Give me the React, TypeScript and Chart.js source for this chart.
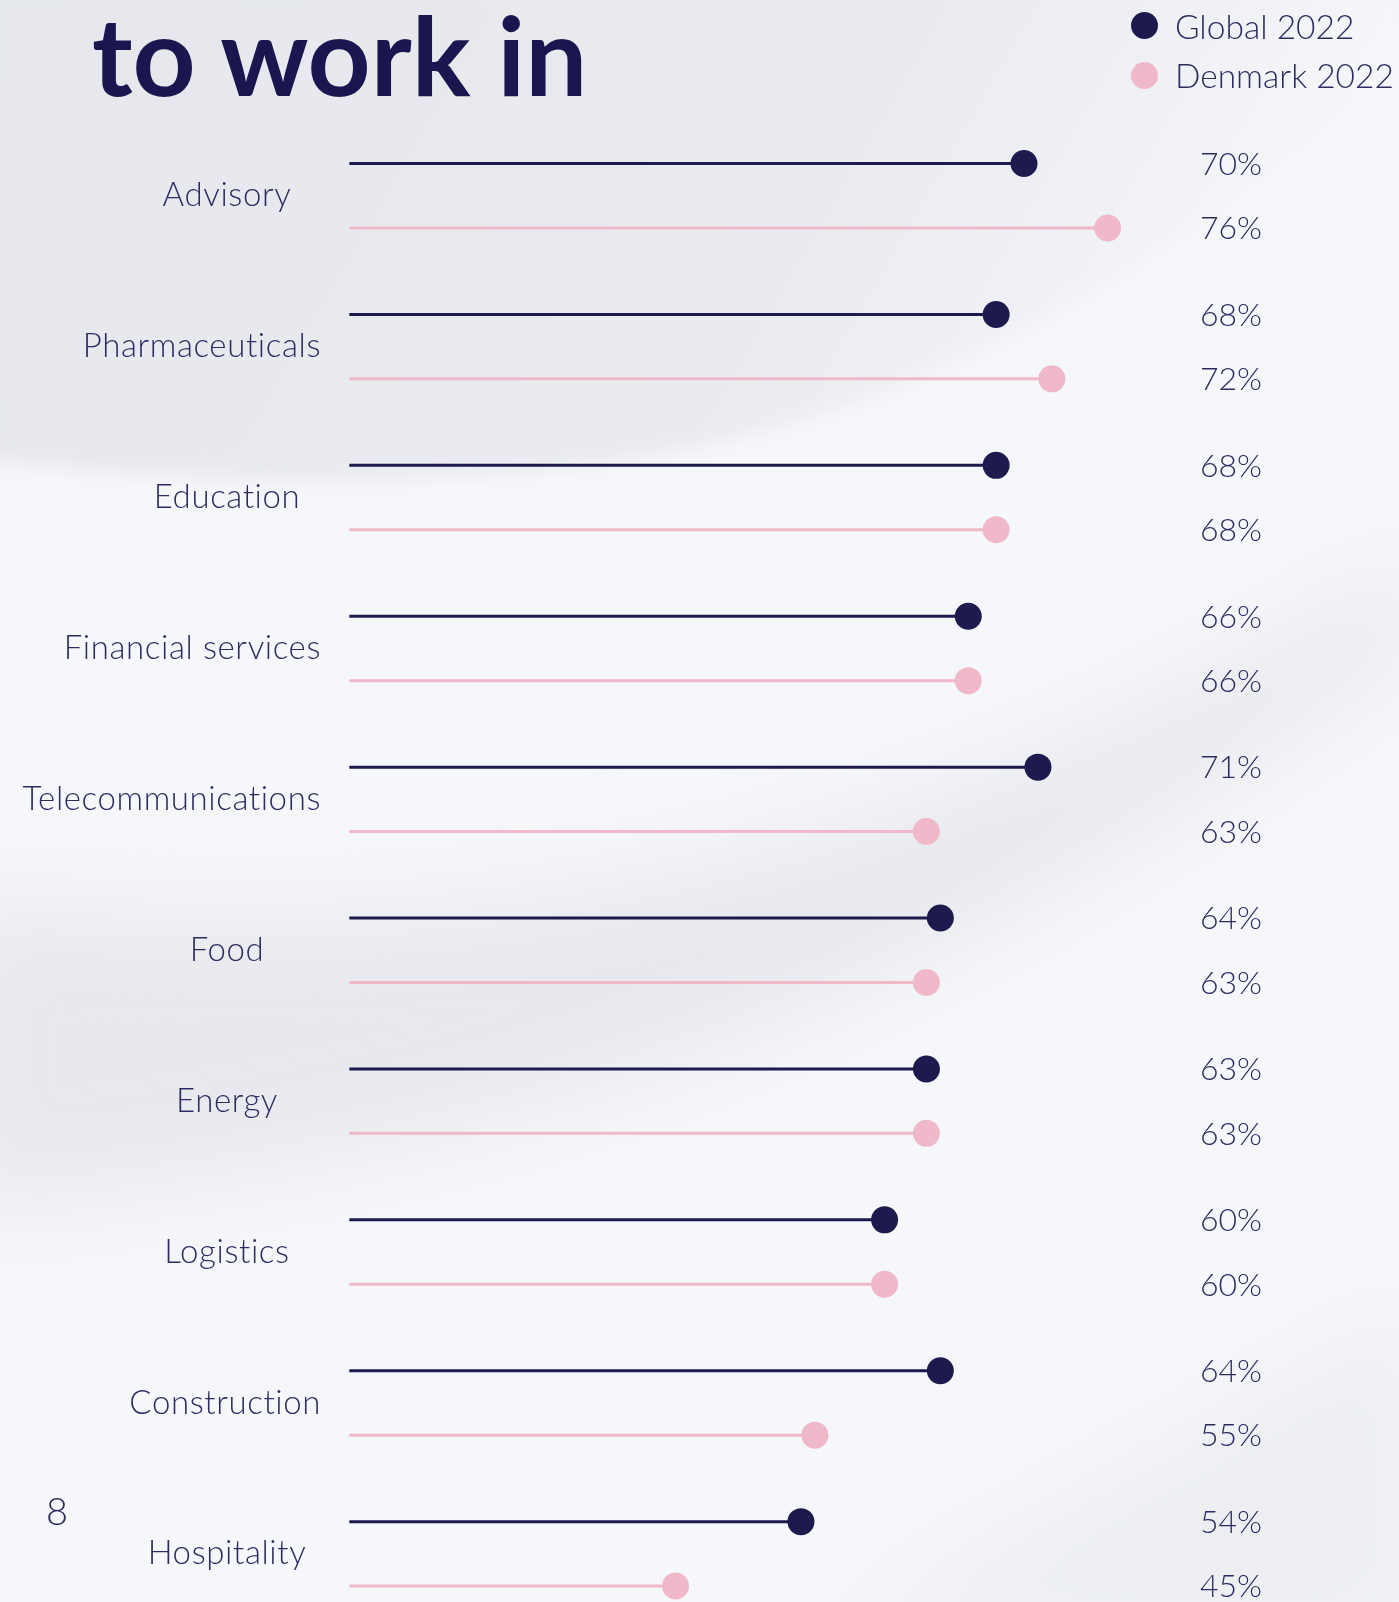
import React, { useEffect, useRef } from "react";
import { Chart, registerables } from "chart.js";

Chart.register(...registerables);

const CATEGORIES = [
  "Advisory",
  "Pharmaceuticals",
  "Education",
  "Financial services",
  "Telecommunications",
  "Food",
  "Energy",
  "Logistics",
  "Construction",
  "Hospitality",
];
const GLOBAL_2022 = [70, 68, 68, 66, 71, 64, 63, 60, 64, 54];
const DENMARK_2022 = [76, 72, 68, 66, 63, 63, 63, 60, 55, 45];
const SERIES_LABELS = ["Global 2022", "Denmark 2022"];
const TITLE = "to work in";
const PAGE_NUMBER = "8";

const AXIS_MIN = 21.6;
const AXIS_MAX = 80;

const NAVY = "#1e1a4e";
const PINK = "#f0b9c9";
const TEXT = "#2f2b62";
const FONT = "Lato, 'Open Sans', sans-serif";

const W = 1399;
const H = 1602;
const CANVAS_H = 1660;

const lollipopPlugin = {
  id: "lollipop",
  afterDatasetsDraw(chart: any) {
    const ctx = chart.ctx;
    const yScale = chart.scales.y;
    ctx.save();
    chart.data.datasets.forEach((ds: any, i: number) => {
      const meta = chart.getDatasetMeta(i);
      meta.data.forEach((el: any, j: number) => {
        const { x, y } = el.getProps(["x", "y"], true);
        ctx.beginPath();
        ctx.arc(x, y, 13.5, 0, Math.PI * 2);
        ctx.fillStyle = ds.dotColor;
        ctx.fill();
        ctx.fillStyle = TEXT;
        ctx.font = `300 32px ${FONT}`;
        (ctx as any).letterSpacing = "0px";
        ctx.textAlign = "center";
        ctx.textBaseline = "middle";
        ctx.fillText(`${ds.data[j]}%`, 1231, y + 1);
      });
    });
    ctx.font = `300 33px ${FONT}`;
    (ctx as any).letterSpacing = "0.6px";
    ctx.fillStyle = TEXT;
    ctx.textAlign = "center";
    ctx.textBaseline = "middle";
    chart.data.labels.forEach((lab: string, j: number) => {
      const y = yScale.getPixelForValue(j);
      const w = ctx.measureText(lab).width;
      const cx = Math.min(227, 321 - w / 2);
      ctx.fillText(lab, cx, y);
    });
    ctx.restore();
  },
};

export default function App() {
  const ref = useRef<HTMLCanvasElement | null>(null);

  useEffect(() => {
    document.body.style.margin = "0";
    if (!ref.current) return;
    const chart = new Chart(ref.current, {
      type: "bar",
      data: {
        labels: CATEGORIES,
        datasets: [
          {
            label: SERIES_LABELS[0],
            data: GLOBAL_2022,
            backgroundColor: NAVY,
            dotColor: NAVY,
            maxBarThickness: 3,
            barPercentage: 1,
            categoryPercentage: 0.8535,
          } as any,
          {
            label: SERIES_LABELS[1],
            data: DENMARK_2022,
            backgroundColor: PINK,
            dotColor: PINK,
            maxBarThickness: 3,
            barPercentage: 1,
            categoryPercentage: 0.8535,
          } as any,
        ],
      },
      options: {
        indexAxis: "y",
        animation: false,
        responsive: false,
        maintainAspectRatio: false,
        devicePixelRatio: 1,
        layout: {
          padding: { left: 349.3, right: W - 1163.4, top: 120.3, bottom: CANVAS_H - 1629.3 },
        },
        scales: {
          x: { type: "linear", min: AXIS_MIN, max: AXIS_MAX, display: false },
          y: { type: "category", display: false, offset: true },
        },
        plugins: {
          legend: { display: false },
          tooltip: { enabled: false },
        },
      },
      plugins: [lollipopPlugin],
    });
    return () => chart.destroy();
  }, []);

  return (
    <div style={{ position: "relative", width: W, height: H, overflow: "hidden", background: "#f6f7fa" }}>
      <svg width={W} height={H} style={{ position: "absolute", left: 0, top: 0 }}>
        <defs>
          <linearGradient id="g1" x1="0" y1="0" x2="1" y2="0.2">
            <stop offset="0" stopColor="#e5e7ec" />
            <stop offset="0.65" stopColor="#e9ebf0" />
            <stop offset="1" stopColor="#f6f7fa" />
          </linearGradient>
          <filter id="b1" x="-20%" y="-20%" width="140%" height="140%">
            <feGaussianBlur stdDeviation="10" />
          </filter>
          <filter id="b2" x="-20%" y="-20%" width="140%" height="140%">
            <feGaussianBlur stdDeviation="45" />
          </filter>
        </defs>
        <path d="M-20,-20 H1420 V60 C1200,230 950,430 560,468 C330,490 150,478 -20,460 Z" fill="url(#g1)" filter="url(#b1)" />
        <path d="M-50,900 C300,930 750,960 1420,560 V640 C1000,960 600,1160 -50,1210 Z" fill="#e8e9ee" filter="url(#b2)" />
        <path d="M820,1640 C1100,1480 1300,1380 1420,1300 V1640 Z" fill="#eceef2" filter="url(#b2)" />
      </svg>
      <canvas ref={ref} width={W} height={CANVAS_H} style={{ position: "absolute", left: 0, top: 0, width: W, height: CANVAS_H }} />
      <div
        style={{
          position: "absolute",
          left: 92,
          top: -2,
          fontFamily: FONT,
          fontWeight: 700,
          fontSize: 110,
          lineHeight: "110px",
          color: "#1c1650",
          whiteSpace: "nowrap",
        }}
      >
        {TITLE}
      </div>
      {SERIES_LABELS.map((s, i) => (
        <div key={s} style={{ position: "absolute", left: 1131, top: 12 + i * 49.5, height: 27, display: "flex", alignItems: "center", whiteSpace: "nowrap" }}>
          <span style={{ width: 27, height: 27, borderRadius: "50%", background: i === 0 ? NAVY : PINK, display: "inline-block", flex: "none" }} />
          <span style={{ marginLeft: 17, fontFamily: FONT, fontWeight: 300, fontSize: 33.5, color: TEXT }}>{s}</span>
        </div>
      ))}
      <div style={{ position: "absolute", left: 46, top: 1488, fontFamily: FONT, fontWeight: 300, fontSize: 38, lineHeight: "44px", color: TEXT }}>
        {PAGE_NUMBER}
      </div>
    </div>
  );
}
